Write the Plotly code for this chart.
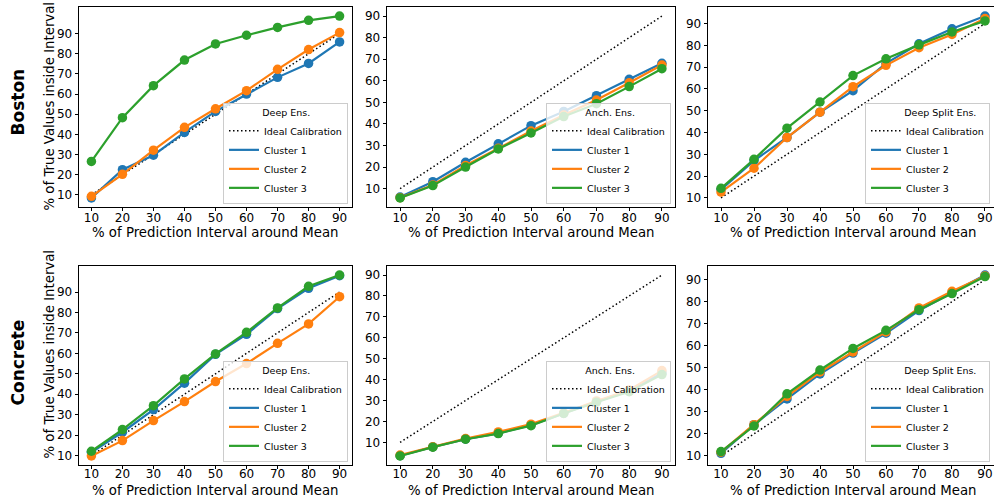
import plotly.graph_objects as go
from plotly.subplots import make_subplots

W, H = 994, 498

# ---------------- data ----------------
pct = [10, 20, 30, 40, 50, 60, 70, 80, 90]
ideal = [10, 20, 30, 40, 50, 60, 70, 80, 90]
datasets = ["Boston", "Concrete"]
methods = ["Deep Ens.", "Anch. Ens.", "Deep Split Ens."]
cluster_names = ["Cluster 1", "Cluster 2", "Cluster 3"]
x_tick_vals = [10, 20, 30, 40, 50, 60, 70, 80, 90]
y_tick_vals = [10, 20, 30, 40, 50, 60, 70, 80, 90]
x_title = "% of Prediction Interval around Mean"
y_title = "% of True Values inside Interval"

boston_deep_c1 = [8.5, 22.5, 29.7, 41.0, 51.4, 60.0, 68.3, 75.2, 85.9]
boston_deep_c2 = [9.3, 20.2, 32.2, 43.5, 52.7, 61.7, 72.3, 82.1, 90.5]
boston_deep_c3 = [26.6, 48.3, 64.2, 76.9, 84.9, 89.2, 93.1, 96.6, 98.7]

boston_anch_c1 = [6.1, 13.2, 22.2, 30.8, 39.2, 45.8, 53.1, 60.7, 68.1]
boston_anch_c2 = [5.8, 11.7, 20.7, 28.7, 36.7, 44.1, 51.1, 59.1, 67.3]
boston_anch_c3 = [5.7, 11.4, 20.0, 28.4, 35.8, 43.4, 49.4, 57.3, 65.6]

boston_split_c1 = [13.8, 27.1, 37.7, 49.3, 59.2, 71.7, 80.7, 87.6, 93.4]
boston_split_c2 = [12.7, 23.6, 37.7, 49.3, 61.0, 70.8, 78.9, 85.0, 92.3]
boston_split_c3 = [14.4, 27.7, 42.0, 54.0, 66.1, 73.8, 80.2, 86.1, 91.2]

concrete_deep_c1 = [11.6, 21.4, 32.5, 45.4, 59.5, 69.3, 81.9, 91.8, 98.0]
concrete_deep_c2 = [9.8, 17.3, 27.1, 36.4, 46.2, 55.0, 64.9, 74.4, 87.7]
concrete_deep_c3 = [12.1, 22.7, 34.4, 47.5, 59.7, 70.3, 82.2, 92.8, 98.3]

concrete_anch_c1 = [3.6, 7.8, 11.5, 14.3, 18.2, 23.9, 29.5, 34.5, 43.2]
concrete_anch_c2 = [3.9, 7.9, 11.8, 15.0, 18.7, 24.1, 29.8, 35.0, 44.3]
concrete_anch_c3 = [3.5, 7.7, 11.5, 14.2, 18.0, 23.8, 29.2, 34.2, 42.4]

concrete_split_c1 = [11.2, 24.2, 35.9, 47.2, 56.7, 65.7, 76.0, 84.0, 92.1]
concrete_split_c2 = [11.7, 24.2, 37.0, 48.1, 57.2, 66.3, 77.2, 84.7, 91.7]
concrete_split_c3 = [12.0, 23.6, 38.2, 49.0, 58.8, 67.0, 76.4, 83.7, 91.4]

panels = [
    [[boston_deep_c1, boston_deep_c2, boston_deep_c3],
     [boston_anch_c1, boston_anch_c2, boston_anch_c3],
     [boston_split_c1, boston_split_c2, boston_split_c3]],
    [[concrete_deep_c1, concrete_deep_c2, concrete_deep_c3],
     [concrete_anch_c1, concrete_anch_c2, concrete_anch_c3],
     [concrete_split_c1, concrete_split_c2, concrete_split_c3]],
]

# ---------------- style ----------------
colors = ["#1f77b4", "#ff7f0e", "#2ca02c"]
FONT = "DejaVu Sans"
col_px = [(79, 352), (387, 675), (708, 994)]
col_title_cx = [215.5, 531, 853]
row_px = [(7, 207), (266, 465)]
row_tick_standoff = [-4, -6]
row_xtitle_cy = [232, 490]
row_ytitle_bottom = [213, 461]
row_label_cy = [102, 363]
x_ranges = [[6, 94], [6, 94], [6.06, 92.73]]
NB = "\u00a0"

fig = make_subplots(rows=2, cols=3)

legend_layouts = {}
for r in range(2):
    for c in range(3):
        k = r * 3 + c + 1
        lname = "legend" if k == 1 else f"legend{k}"
        fig.add_trace(go.Scatter(
            x=pct, y=ideal, mode="lines", name="Ideal Calibration",
            line=dict(color="black", width=1.5, dash="1.5px,2.5px"),
            legend=lname, hoverinfo="skip"), row=r + 1, col=c + 1)
        for i, ys in enumerate(panels[r][c]):
            fig.add_trace(go.Scatter(
                x=pct, y=ys, mode="lines", name=cluster_names[i],
                line=dict(color=colors[i], width=2.2),
                legend=lname), row=r + 1, col=c + 1)
            fig.add_trace(go.Scatter(
                x=pct, y=ys, mode="markers", name=cluster_names[i],
                marker=dict(color=colors[i], size=9.5),
                showlegend=False, legend=lname), row=r + 1, col=c + 1)

        allv = ideal + [v for ys in panels[r][c] for v in ys]
        lo, hi = min(allv), max(allv)
        pad = 0.05 * (hi - lo)
        x0, x1 = col_px[c]
        y0, y1 = row_px[r]
        xa = "xaxis" if k == 1 else f"xaxis{k}"
        ya = "yaxis" if k == 1 else f"yaxis{k}"
        fig.layout[xa].update(
            domain=[x0 / W, min(x1 / W, 1.0)], range=x_ranges[c], automargin=False,
            tickvals=x_tick_vals, ticks="outside", ticklen=3.5, tickwidth=0.8,
            tickcolor="black", showline=True, linecolor="black", linewidth=0.8,
            mirror=True, showgrid=False, zeroline=False,
            ticklabelstandoff=row_tick_standoff[r],
            tickfont=dict(size=12, family=FONT, color="black"))
        fig.layout[ya].update(
            domain=[1 - y1 / H, 1 - y0 / H], range=[lo - pad, hi + pad], automargin=False,
            tickvals=y_tick_vals, ticks="outside", ticklen=3.5, tickwidth=0.8,
            tickcolor="black", showline=True, linecolor="black", linewidth=0.8,
            mirror=(c != 2), showgrid=False, zeroline=False,
            tickfont=dict(size=12, family=FONT, color="black"))

        # x-axis title
        fig.add_annotation(
            text=x_title, x=col_title_cx[c] / W, y=1 - row_xtitle_cy[r] / H,
            xref="paper", yref="paper", xanchor="center", yanchor="middle",
            showarrow=False, borderpad=0,
            font=dict(size=13.3, family=FONT, color="black"))

        right = min(x1 - 4, 993)
        legend_layouts[lname] = dict(
            x=right / W, xanchor="right",
            y=(H - (y1 - 3)) / H, yanchor="bottom",
            bgcolor="rgba(255,255,255,0.8)", bordercolor="#cccccc", borderwidth=1,
            font=dict(size=9.5, family=FONT, color="black"),
            itemwidth=30, tracegroupgap=0,
            title=dict(text=NB * 12 + methods[c], side="top",
                       font=dict(size=9.5, family=FONT, color="black")))

fig.update_layout(**legend_layouts)

for r, name in enumerate(datasets):
    # y-axis title (first column)
    fig.add_annotation(
        text=y_title, x=49 / W, y=1 - row_ytitle_bottom[r] / H,
        xref="paper", yref="paper", xanchor="center", yanchor="bottom",
        showarrow=False, textangle=-90,
        font=dict(size=13.3, family=FONT, color="black"))
    # row label
    fig.add_annotation(
        text=f"<b>{name}</b>", x=17.5 / W, y=1 - row_label_cy[r] / H,
        xref="paper", yref="paper", xanchor="center", yanchor="middle",
        showarrow=False, textangle=-90,
        font=dict(size=17, family=FONT, color="black"))

fig.update_layout(
    width=W, height=H, margin=dict(l=0, r=0, t=0, b=0, autoexpand=False),
    paper_bgcolor="white", plot_bgcolor="white",
    font=dict(family=FONT, color="black"),
)

fig.write_html("out.html",
               config={"displayModeBar": False},
               post_script="document.body.style.margin='0';document.body.style.overflow='hidden';")
